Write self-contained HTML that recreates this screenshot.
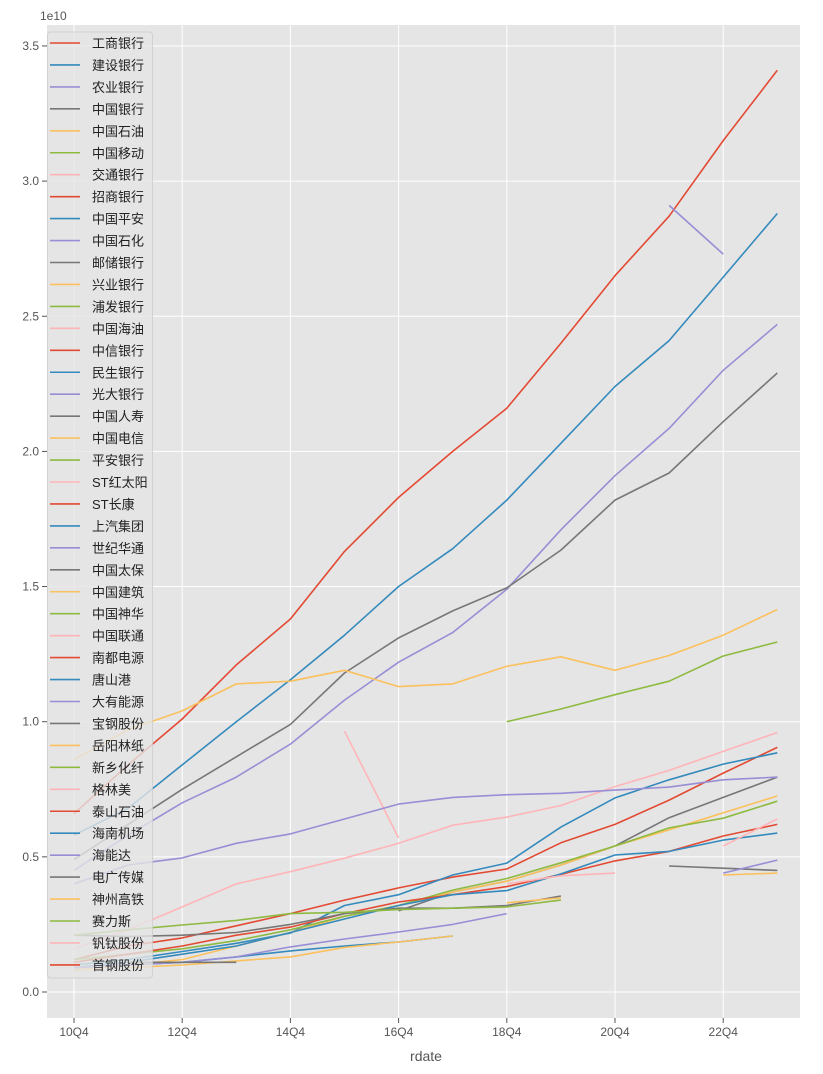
<!DOCTYPE html>
<html><head><meta charset="utf-8">
<style>
body{margin:0;background:#fff;}
svg{display:block;font-family:"Liberation Sans","Noto Sans CJK SC",sans-serif;}
</style></head>
<body>
<svg id="chart" width="823" height="1074" viewBox="0 0 823 1074">
<rect x="47" y="25" width="753" height="993" fill="#E5E5E5"/>
<g id="grid"></g>
<g id="series"></g>
<g id="axes"></g>
<g id="legend"></g>
</svg>
<script>
const years = ["10Q4","11Q4","12Q4","13Q4","14Q4","15Q4","16Q4","17Q4","18Q4","19Q4","20Q4","21Q4","22Q4","23Q4"];
const xTickLabels = ["10Q4","12Q4","14Q4","16Q4","18Q4","20Q4","22Q4"];
const yTicks = [0,0.5,1.0,1.5,2.0,2.5,3.0,3.5];
const names = ["工商银行","建设银行","农业银行","中国银行","中国石油","中国移动","交通银行","招商银行","中国平安","中国石化","邮储银行","兴业银行","浦发银行","中国海油","中信银行","民生银行","光大银行","中国人寿","中国电信","平安银行","ST红太阳","ST长康","上汽集团","世纪华通","中国太保","中国建筑","中国神华","中国联通","南都电源","唐山港","大有能源","宝钢股份","岳阳林纸","新乡化纤","格林美","泰山石油","海南机场","海能达","电广传媒","神州高铁","赛力斯","钒钛股份","首钢股份"];
const colors = ["#E24A33","#348ABD","#988ED5","#777777","#FBC15E","#8EBA42","#FFB5B8"];
const N = null;
// values in units of 1e10
const s0 = [0.66,0.84,1.01,1.21,1.38,1.63,1.83,2.0,2.16,2.4,2.65,2.87,3.15,3.41];
const s1 = [0.58,0.68,0.84,1.0,1.155,1.32,1.5,1.64,1.82,2.03,2.24,2.41,2.645,2.88];
const s2 = [0.45,0.58,0.70,0.795,0.917,1.08,1.22,1.33,1.49,1.71,1.91,2.085,2.30,2.47];
const s3 = [0.49,0.62,0.75,0.87,0.99,1.18,1.31,1.41,1.495,1.635,1.82,1.92,2.11,2.29];
const s4 = [0.86,0.97,1.04,1.14,1.15,1.19,1.13,1.14,1.205,1.24,1.19,1.245,1.32,1.415];
const s5 = [N,N,N,N,N,N,N,N,1.0,1.047,1.10,1.15,1.243,1.295];
const s6 = [0.16,0.23,0.315,0.40,0.445,0.495,0.55,0.617,0.647,0.69,0.76,0.82,0.89,0.96];
const s7 = [0.12,0.17,0.20,0.245,0.29,0.34,0.385,0.425,0.455,0.552,0.62,0.71,0.81,0.905];
const s8 = [0.10,0.12,0.15,0.18,0.218,0.32,0.36,0.433,0.477,0.61,0.718,0.785,0.843,0.885];
const s9 = [N,N,N,N,N,N,N,N,N,N,N,2.91,2.73,N];
const s10 = [N,N,N,N,N,N,0.30,0.37,0.41,0.47,0.54,0.645,0.72,0.795];
const s11 = [0.08,0.10,0.12,0.17,0.22,0.28,0.32,0.37,0.41,0.47,0.54,0.60,0.663,0.725];
const s12 = [0.12,0.14,0.16,0.19,0.23,0.28,0.32,0.377,0.42,0.478,0.54,0.607,0.643,0.706];
const s13 = [N,N,N,N,N,0.965,0.57,N,N,N,N,N,N,N];
const s14 = [0.11,0.14,0.17,0.21,0.24,0.29,0.333,0.36,0.39,0.435,0.485,0.52,0.577,0.62];
const s15 = [0.09,0.11,0.14,0.17,0.22,0.27,0.32,0.36,0.375,0.437,0.507,0.52,0.562,0.588];
const s16 = [0.40,0.47,0.496,0.55,0.585,0.64,0.695,0.72,0.73,0.735,0.747,0.758,0.785,0.795];
const s17 = [0.21,0.205,0.21,0.22,0.25,0.29,0.31,0.31,0.32,0.355,N,N,N,N];
const s18 = [N,N,N,N,N,N,N,N,0.33,0.348,N,N,N,N];
const s19 = [0.21,0.23,0.248,0.265,0.29,0.295,0.305,0.31,0.315,0.34,N,N,N,N];
const s20 = [N,N,N,N,N,N,N,N,0.40,0.43,0.44,N,N,N];
const s21 = [N,N,N,N,N,N,N,N,N,N,N,N,N,N];
const s22 = [0.09,0.10,0.11,0.13,0.152,0.17,0.185,0.207,N,N,N,N,N,N];
const s23 = [0.09,0.10,0.11,0.13,0.167,0.196,0.222,0.25,0.29,N,N,N,N,N];
const s24 = [N,N,N,N,N,N,N,N,N,N,N,0.466,0.458,0.45];
const s25 = [N,0.09,0.10,0.115,0.13,0.165,0.185,0.207,N,N,N,N,N,N];
const s26 = [N,N,N,N,N,N,N,N,N,N,N,N,N,N];
const s27 = [N,N,N,N,N,N,N,N,N,N,N,N,0.54,0.64];
const s28 = [N,N,N,N,N,N,N,N,N,N,N,N,N,N];
const s29 = [N,N,N,N,N,N,N,N,N,N,N,N,N,N];
const s30 = [N,N,N,N,N,N,N,N,N,N,N,N,0.44,0.488];
const s31 = [N,0.11,0.11,0.11,N,N,N,N,N,N,N,N,N,N];
const s32 = [N,N,N,N,N,N,N,N,N,N,N,N,0.433,0.44];
const s33 = [N,N,N,N,N,N,N,N,N,N,N,N,N,N];
const s34 = [N,N,N,N,N,N,N,N,N,N,N,N,N,N];
const s35 = [N,N,N,N,N,N,N,N,N,N,N,N,N,N];
const s36 = [N,N,N,N,N,N,N,N,N,N,N,N,N,N];
const s37 = [N,N,N,N,N,N,N,N,N,N,N,N,N,N];
const s38 = [N,N,N,N,N,N,N,N,N,N,N,N,N,N];
const s39 = [N,N,N,N,N,N,N,N,N,N,N,N,N,N];
const s40 = [N,N,N,N,N,N,N,N,N,N,N,N,N,N];
const s41 = [N,N,N,N,N,N,N,N,N,N,N,N,N,N];
const s42 = [N,N,N,N,N,N,N,N,N,N,N,N,N,N];
const allSeries = [s0,s1,s2,s3,s4,s5,s6,s7,s8,s9,s10,s11,s12,s13,s14,s15,s16,s17,s18,s19,s20,s21,s22,s23,s24,s25,s26,s27,s28,s29,s30,s31,s32,s33,s34,s35,s36,s37,s38,s39,s40,s41,s42];

const NS="http://www.w3.org/2000/svg";
const X0=74, XSTEP=54.1, Y0=992, YSCALE=270.3;
function xScale(i){return X0+i*XSTEP;}
function yScale(v){return Y0-v*YSCALE;}
function mk(tag,attrs,parent){const e=document.createElementNS(NS,tag);for(const k in attrs)e.setAttribute(k,attrs[k]);parent.appendChild(e);return e;}

const grid=document.getElementById('grid'), axes=document.getElementById('axes'), ser=document.getElementById('series'), leg=document.getElementById('legend');
yTicks.forEach(t=>{
  const y=yScale(t);
  const gl=mk('line',{x1:47,x2:800,y1:y,y2:y,stroke:'#fff','stroke-width':1},grid);
  
  
  const tk=mk('line',{x1:42,x2:47,y1:y,y2:y,stroke:'#555','stroke-width':1},axes);
  
  
  const tx=mk('text',{x:39,y:y+4,'text-anchor':'end','font-size':12,fill:'#555'},axes);
  
  
  tx.textContent=t.toFixed(1);
});
xTickLabels.forEach(lab=>{
  const i=years.indexOf(lab), x=xScale(i);
  const gl=mk('line',{x1:x,x2:x,y1:25,y2:1018,stroke:'#fff','stroke-width':1},grid);
  
  
  const tk=mk('line',{x1:x,x2:x,y1:1018,y2:1023,stroke:'#555','stroke-width':1},axes);
  
  
  const tx=mk('text',{x:x,y:1036,'text-anchor':'middle','font-size':12,fill:'#555'},axes);
  
  
  tx.textContent=lab;
});
const off=mk('text',{x:40,y:20,'font-size':12,fill:'#555'},axes);


off.textContent='1e10';
const xl=mk('text',{x:426,y:1061,'text-anchor':'middle','font-size':14,fill:'#555'},axes);


xl.textContent='rdate';

allSeries.forEach((vals,si)=>{
  let d='',pen=false;
  vals.forEach((v,i)=>{
    if(v===null){pen=false;return;}
    d+=(pen?'L':'M')+xScale(i).toFixed(1)+' '+yScale(v).toFixed(1)+' ';pen=true;
  });
  if(!d)return;
  const p=mk('path',{d:d,fill:'none',stroke:colors[si%7],'stroke-width':1.6,'stroke-linejoin':'round'},ser);
  
  
});

const lb=mk('rect',{x:47.5,y:32,width:105,height:946,rx:3,fill:'#E5E5E5','fill-opacity':0.8,stroke:'#ccc','stroke-opacity':0.8},leg);


names.forEach((n,i)=>{
  const y=43+i*21.95;
  const g=mk('g',{},leg);
  
  
  mk('line',{x1:50,x2:80,y1:y,y2:y,stroke:colors[i%7],'stroke-width':1.6},g);
  const t=mk('text',{x:92,y:y+5,'font-size':13,fill:'#222'},g);
  t.textContent=n;
});
</script>
</body></html>
